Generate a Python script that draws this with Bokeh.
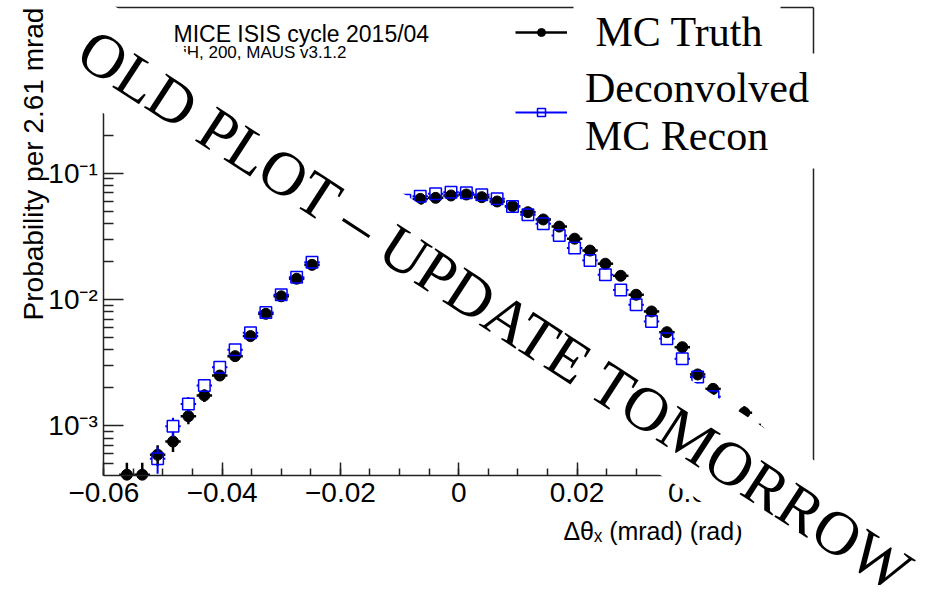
import numpy as np
from bokeh.plotting import figure
from bokeh.models import (Range1d, FixedTicker, Label, Legend, LegendItem,
                          ColumnDataSource, LinearAxis, BoxAnnotation)
from bokeh.embed import file_html
from bokeh.resources import INLINE

# ---------------- data ----------------
bin_width = 0.00261
bin_centers = [-0.0587, -0.0561, -0.0535, -0.0509, -0.0483, -0.0457, -0.0430, -0.0404,
               -0.0378, -0.0352, -0.0326, -0.0300, -0.0274, -0.0248, -0.0222, -0.0196,
               -0.0170, -0.0143, -0.0117, -0.0091, -0.0065, -0.0039, -0.0013, 0.0013,
               0.0039, 0.0065, 0.0091, 0.0117, 0.0143, 0.0170, 0.0196, 0.0222,
               0.0248, 0.0274, 0.0300, 0.0326, 0.0352, 0.0378, 0.0404, 0.0430,
               0.0457, 0.0483, 0.0509, 0.0535, 0.0561, 0.0587]

mc_truth = [3.0e-4, 4.1e-4, 4.1e-4, 5.9e-4, 7.5e-4, 1.19e-3, 1.74e-3, 2.50e-3,
            3.56e-3, 5.13e-3, 7.7e-3, 1.06e-2, 1.46e-2, 1.88e-2, 2.45e-2, 3.05e-2,
            3.75e-2, 4.5e-2, 5.2e-2, 5.8e-2, 6.26e-2, 6.38e-2, 6.66e-2, 6.78e-2,
            6.46e-2, 5.97e-2, 5.48e-2, 4.91e-2, 4.30e-2, 3.78e-2, 3.03e-2, 2.44e-2,
            1.92e-2, 1.54e-2, 1.09e-2, 8.04e-3, 5.51e-3, 4.19e-3, 2.55e-3, 1.96e-3,
            1.21e-3, 1.27e-3, 9.0e-4, 7.0e-4, 5.0e-4, 4.2e-4]
mc_truth_err = [1.0e-4, 1.0e-4, 1.0e-4, 1.1e-4, 1.3e-4, 1.6e-4, 2.0e-4, 2.4e-4,
                2.8e-4, 3.4e-4, 4.1e-4, 4.8e-4, 5.6e-4, 6.4e-4, 7.3e-4, 8.1e-4,
                9.0e-4, 9.8e-4, 1.05e-3, 1.10e-3, 1.15e-3, 1.16e-3, 1.18e-3, 1.19e-3,
                1.16e-3, 1.12e-3, 1.07e-3, 1.02e-3, 9.6e-4, 9.0e-4, 8.1e-4, 7.3e-4,
                6.5e-4, 5.8e-4, 4.9e-4, 4.2e-4, 3.5e-4, 3.0e-4, 2.4e-4, 2.1e-4,
                1.6e-4, 1.6e-4, 1.4e-4, 1.2e-4, 1.0e-4, 1.0e-4]

deconvolved = [2.5e-4, 3.0e-4, 3.2e-4, 5.48e-4, 9.9e-4, 1.49e-3, 2.08e-3, 2.91e-3,
               4.0e-3, 5.45e-3, 7.9e-3, 1.09e-2, 1.50e-2, 1.97e-2, 2.55e-2, 3.2e-2,
               3.95e-2, 4.7e-2, 5.45e-2, 6.1e-2, 6.58e-2, 6.87e-2, 7.07e-2, 7.0e-2,
               6.74e-2, 6.27e-2, 5.45e-2, 4.69e-2, 3.97e-2, 3.21e-2, 2.56e-2, 2.04e-2,
               1.57e-2, 1.19e-2, 9.08e-3, 6.70e-3, 4.89e-3, 3.39e-3, 2.43e-3, 1.7e-3,
               1.1e-3, 8.5e-4, 6.0e-4, 4.5e-4, 3.5e-4, 2.8e-4]
deconvolved_err = [1.0e-4, 1.0e-4, 1.0e-4, 1.3e-4, 1.7e-4, 2.0e-4, 2.4e-4, 2.8e-4,
                   3.3e-4, 3.9e-4, 4.7e-4, 5.5e-4, 6.4e-4, 7.4e-4, 8.4e-4, 9.5e-4,
                   1.05e-3, 1.15e-3, 1.24e-3, 1.31e-3, 1.37e-3, 1.40e-3, 1.42e-3, 1.41e-3,
                   1.39e-3, 1.33e-3, 1.24e-3, 1.15e-3, 1.06e-3, 9.5e-4, 8.4e-4, 7.5e-4,
                   6.6e-4, 5.7e-4, 5.0e-4, 4.3e-4, 3.7e-4, 3.1e-4, 2.6e-4, 2.2e-4,
                   1.8e-4, 1.6e-4, 1.4e-4, 1.2e-4, 1.1e-4, 1.0e-4]

x_axis_limits = (-0.06, 0.06)
y_axis_limits = (4.04e-4, 2.05)
x_tick_values = [-0.06, -0.04, -0.02, 0.0, 0.02, 0.04, 0.06]
x_tick_labels = ["\u22120.06", "\u22120.04", "\u22120.02", "0", "0.02", "0.04", "0.06"]
y_tick_values = [1e-3, 1e-2, 1e-1, 1.0]
y_tick_labels = ["10\u207b\u00b3", "10\u207b\u00b2", "10\u207b\u00b9", "1"]

series_names = ["MC Truth", "Deconvolved\nMC Recon"]
title_lines = ["MICE ISIS cycle 2015/04", "LiH, 200, MAUS v3.1.2"]
x_title = "\u0394\u03b8\u2093 (mrad) (rad)"
y_title = "Probability per 2.61 mrad"
watermark = "OLD PLOT \u2013 UPDATE TOMORROW"

# ---------------- derived tables (points outside the axes are not drawn) ----------------
ymin, ymax = y_axis_limits
xc = np.array(bin_centers)
half = bin_width / 2.0
gap_x = 0.00093       # marker half-width in data units (style)
gap_f = 1.105         # marker half-height as log factor (style)

yt = np.array(mc_truth); et = np.array(mc_truth_err)
yd = np.array(deconvolved); ed = np.array(deconvolved_err)

mt = yt >= ymin
truth_h = ColumnDataSource(dict(x0=(xc - half)[mt], x1=(xc + half)[mt], y=yt[mt]))
truth_v = ColumnDataSource(dict(x=xc[mt], y0=np.maximum(yt - et, ymin)[mt], y1=(yt + et)[mt]))
truth_pts = ColumnDataSource(dict(x=xc[mt], y=yt[mt]))

md = yd >= ymin
dh_x0 = np.concatenate([(xc - half)[md], (xc + gap_x)[md]])
dh_x1 = np.concatenate([(xc - gap_x)[md], (xc + half)[md]])
dh_y = np.concatenate([yd[md], yd[md]])
deconv_h = ColumnDataSource(dict(x0=dh_x0, x1=dh_x1, y=dh_y))
vx, vy0, vy1 = [], [], []
for x, y, e in zip(xc[md], yd[md], ed[md]):
    if y + e > y * gap_f:
        vx.append(x); vy0.append(y * gap_f); vy1.append(y + e)
    lo = max(y - e, ymin)
    if lo < y / gap_f:
        vx.append(x); vy0.append(lo); vy1.append(y / gap_f)
deconv_v = ColumnDataSource(dict(x=vx, y0=vy0, y1=vy1))
deconv_pts = ColumnDataSource(dict(x=xc[md], y=yd[md]))

# ---------------- figure (frame spans the whole canvas; axes fixed inside) ----------------
p = figure(width=918, height=585, x_range=Range1d(-0.077464, 0.077734),
           y_range=Range1d(5.437e-5, 2.330), y_axis_type="log",
           output_backend="svg", toolbar_location=None,
           min_border=0, min_border_left=0, min_border_right=0,
           min_border_top=0, min_border_bottom=0)
p.outline_line_color = None
p.xgrid.visible = False
p.ygrid.visible = False
p.background_fill_color = "white"
p.border_fill_color = "white"

AX = "#222222"
SANS = "Liberation Sans"
SERIF = "Liberation Serif"

p.xaxis.fixed_location = ymin
p.xaxis.bounds = x_axis_limits
p.yaxis.fixed_location = x_axis_limits[0]
p.yaxis.bounds = y_axis_limits

p.xaxis.ticker = FixedTicker(ticks=x_tick_values,
                             minor_ticks=[round(-0.06 + 0.005 * k, 4) for k in range(25)])
p.xaxis.major_label_overrides = dict(zip(x_tick_values, x_tick_labels))
y_minor = [m * 10.0 ** e for e in (-4, -3, -2, -1, 0) for m in range(2, 10)]
p.yaxis.ticker = FixedTicker(ticks=y_tick_values,
                             minor_ticks=[v for v in y_minor if ymin <= v <= ymax])
p.yaxis.major_label_overrides = dict(zip(y_tick_values, y_tick_labels))

for ax in (p.xaxis[0], p.yaxis[0]):
    ax.axis_line_color = AX
    ax.axis_line_width = 1.5
    ax.major_tick_line_color = AX
    ax.minor_tick_line_color = AX
    ax.major_tick_line_width = 1.5
    ax.minor_tick_line_width = 1.5
    ax.major_tick_out = 0
    ax.minor_tick_out = 0
    ax.major_label_text_font = SANS
    ax.major_label_text_font_size = "28px"
    ax.major_label_text_color = "black"
p.xaxis.major_tick_in = 13
p.xaxis.minor_tick_in = 7
p.xaxis.major_label_standoff = 8
p.yaxis.major_tick_in = 20
p.yaxis.minor_tick_in = 10
p.yaxis.major_label_standoff = 6

top_axis = LinearAxis(ticker=FixedTicker(ticks=[]), major_tick_out=0, major_tick_in=0,
                      minor_tick_out=0, minor_tick_in=0, axis_line_color=AX,
                      axis_line_width=1.5, major_label_text_font_size="0px",
                      fixed_location=ymax, bounds=x_axis_limits)
p.add_layout(top_axis, "above")
right_axis = LinearAxis(ticker=FixedTicker(ticks=[]), major_tick_out=0, major_tick_in=0,
                        minor_tick_out=0, minor_tick_in=0, axis_line_color=AX,
                        axis_line_width=1.5, major_label_text_font_size="0px",
                        fixed_location=x_axis_limits[1], bounds=y_axis_limits)
p.add_layout(right_axis, "right")

# ---------------- data marks ----------------
bh = p.segment(x0="x0", x1="x1", y0="y", y1="y", source=truth_h,
               line_color="black", line_width=2.5)
p.segment(x0="x", x1="x", y0="y0", y1="y1", source=truth_v,
          line_color="black", line_width=2.5)
bc = p.scatter("x", "y", source=truth_pts, marker="circle", size=11,
               fill_color="black", line_color="black")

uh = p.segment(x0="x0", x1="x1", y0="y", y1="y", source=deconv_h,
               line_color="blue", line_width=2)
p.segment(x0="x", x1="x", y0="y0", y1="y1", source=deconv_v,
          line_color="blue", line_width=2)
us = p.scatter("x", "y", source=deconv_pts, marker="square", size=11.5,
               fill_color=None, line_color="blue", line_width=1.5)

# ---------------- legend (white boxes behind its texts) ----------------
p.add_layout(BoxAnnotation(left=0.01941, right=0.05441, bottom=0.9365, top=3.0,
                           fill_color="white", fill_alpha=1.0, line_color=None))
p.add_layout(BoxAnnotation(left=0.01975, right=0.06284, bottom=0.1089, top=0.8866,
                           fill_color="white", fill_alpha=1.0, line_color=None))
legend = Legend(items=[LegendItem(label="\u00a0" + series_names[0], renderers=[bh, bc]),
                       LegendItem(label=series_names[1], renderers=[uh, us])],
                location=(515, 425), label_text_font=SERIF,
                label_text_font_size="42px", label_text_color="black",
                glyph_width=52, glyph_height=20, label_standoff=18,
                spacing=8, padding=0, margin=0,
                background_fill_alpha=0.0, border_line_color=None)
p.add_layout(legend)

# ---------------- texts ----------------
p.add_layout(Label(x=-0.04822, y=1.276, text=title_lines[0], text_font=SANS,
                   text_font_size="23px", text_align="left",
                   text_baseline="alphabetic", text_color="black"))
p.add_layout(Label(x=-0.04822, y=0.903, text=title_lines[1], text_font=SANS,
                   text_font_size="17px", text_align="left",
                   text_baseline="alphabetic", text_color="black"))
p.add_layout(Label(x=-0.07189, y=6.83e-3, text=y_title, text_font=SANS,
                   text_font_size="28px", text_align="left",
                   text_baseline="alphabetic", angle=90, angle_units="deg",
                   text_color="black"))
p.add_layout(Label(x=0.0177, y=1.48e-4, text=x_title, text_font=SANS,
                   text_font_size="25px", text_align="left",
                   text_baseline="alphabetic", text_color="black"))

p.add_layout(Label(x=0.006289, y=8.11e-3, text=watermark, text_font=SERIF,
                   text_font_size="62px", text_align="center",
                   text_baseline="middle", angle=-33, angle_units="deg",
                   text_color="black", background_fill_color="white",
                   background_fill_alpha=1.0, padding=14))

open("out.html", "w").write(file_html(p, INLINE))
